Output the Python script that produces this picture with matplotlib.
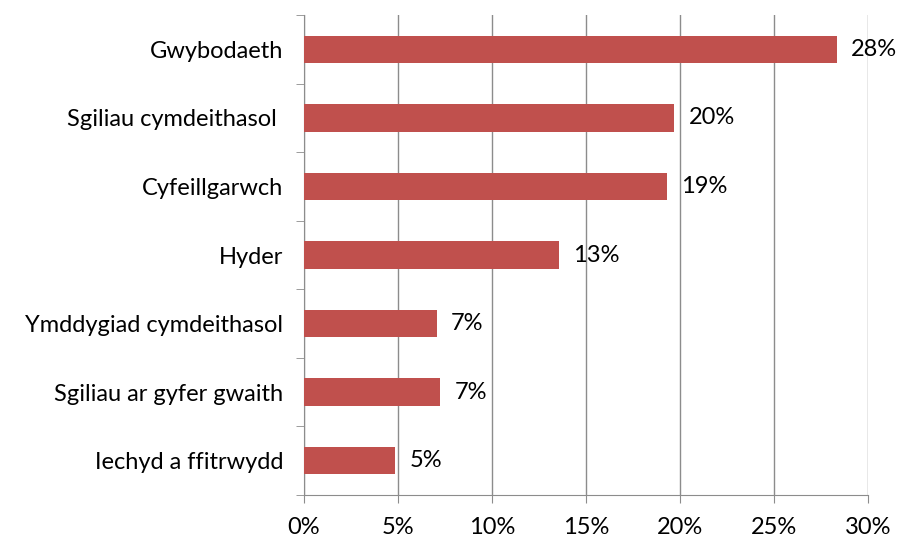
import matplotlib.pyplot as plt
from matplotlib.ticker import FixedLocator

# ===== データ =====
categories = ['Gwybodaeth', 'Sgiliau cymdeithasol ', 'Cyfeillgarwch', 'Hyder',
              'Ymddygiad cymdeithasol', 'Sgiliau ar gyfer gwaith', 'Iechyd a ffitrwydd']
values = [28.35, 19.7, 19.3, 13.55, 7.05, 7.25, 4.85]
labels = ['28%', '20%', '19%', '13%', '7%', '7%', '5%']
xticks = [0, 5, 10, 15, 20, 25, 30]

plt.rcParams['font.family'] = ['Lato', 'DejaVu Sans']
fs = 17

fig = plt.figure(figsize=(9.02, 5.39), dpi=100)
ax = fig.add_axes([304 / 902, 1 - 495 / 539, 564 / 902, 480 / 539])

n = len(categories)
ypos = list(range(n))[::-1]
ax.barh(ypos, values, height=0.4, color='#C0504D', zorder=3)

for y, v, lab in zip(ypos, values, labels):
    ax.text(v + 0.75, y, lab, va='center', ha='left', fontsize=fs, color='#000000')

ax.set_xlim(0, 30)
ax.set_ylim(-0.5, n - 0.5)
ax.set_xticks(xticks)
ax.set_xticklabels([f'{t}%' for t in xticks], fontsize=fs)
ax.set_yticks(ypos)
ax.set_yticklabels(categories, fontsize=fs)
ax.yaxis.set_minor_locator(FixedLocator([i - 0.5 for i in range(n + 1)]))
ax.tick_params(axis='y', which='major', length=0, pad=15)
ax.tick_params(axis='y', which='minor', length=6, color='#8C8C8C')
ax.tick_params(axis='x', length=6, color='#8C8C8C', pad=10)

ax.grid(axis='x', color='#8C8C8C', linewidth=1, zorder=0)
for s in ['top', 'right']:
    ax.spines[s].set_visible(False)
for s in ['left', 'bottom']:
    ax.spines[s].set_color('#8C8C8C')

fig.savefig('out.png', dpi=100)
